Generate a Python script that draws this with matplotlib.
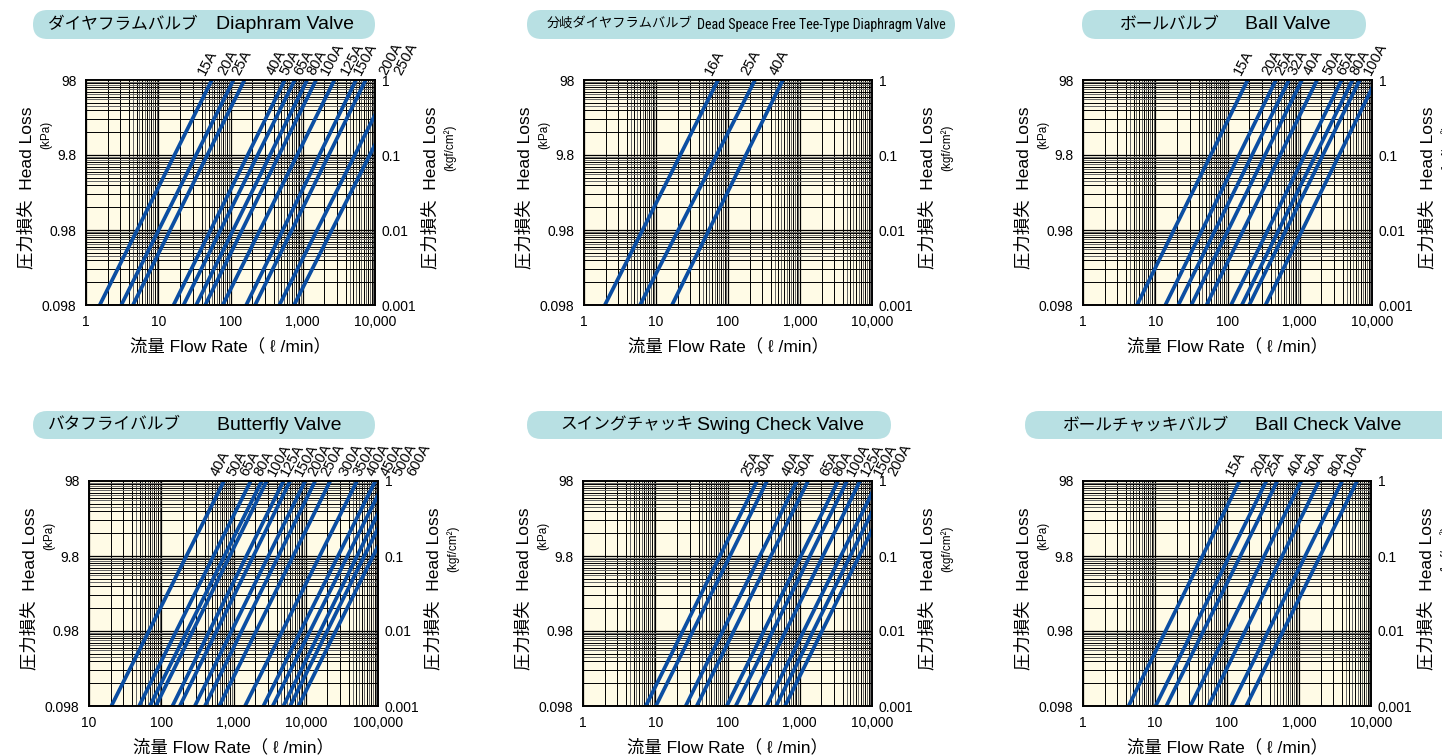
import numpy as np
import matplotlib.pyplot as plt
from matplotlib import font_manager
from matplotlib.patches import FancyBboxPatch
from matplotlib.transforms import IdentityTransform

plt.rcParams['font.family'] = ['Liberation Sans', 'Noto Sans CJK JP']

W, H = 1442, 756
LINE_BLUE = '#0b4ea2'
PAPER = '#fffbe6'
BADGE = '#b8e0e3'

# flow rate (l/min) where each line crosses 0.001 kgf/cm2 (lo) and 1 kgf/cm2 (hi)
diaphragm_sizes = ['15A', '20A', '25A', '40A', '50A', '65A', '80A', '100A', '125A', '150A', '200A', '250A']
diaphragm_q_lo = [1.55, 3.08, 4.47, 16.3, 22.4, 33.5, 44.7, 78.3, 165, 219, 475, 759]
diaphragm_q_hi = [55.2, 110, 156, 564, 774, 1148, 1528, 2742, 5458, 7430, 17500, 28300]

tee_sizes = ['16A', '25A', '40A']
tee_q_lo = [1.95, 6.0, 16.7]
tee_q_hi = [72.7, 237, 578]

ball_sizes = ['15A', '20A', '25A', '32A', '40A', '50A', '65A', '80A', '100A']
ball_q_lo = [5.6, 13.8, 20.9, 31.6, 51.3, 112, 158, 200, 336]
ball_q_hi = [190, 468, 708, 1072, 1738, 3800, 5370, 6760, 11380]

butterfly_sizes = ['40A', '50A', '65A', '80A', '100A', '125A', '150A', '200A', '250A',
                   '300A', '350A', '400A', '450A', '500A', '600A']
butterfly_q_lo = [20.4, 49.4, 69.5, 84.1, 143, 181, 292, 403, 635, 1445, 2594, 3490, 4910, 6080, 7930]
butterfly_q_hi = [738, 1730, 2460, 2880, 4910, 6080, 9820, 13500, 21800, 51200, 91800,
                  124700, 166300, 210400, 280500]

swing_sizes = ['25A', '30A', '40A', '50A', '65A', '80A', '100A', '125A', '150A', '200A']
swing_q_lo = [7.4, 10.2, 26.4, 37.5, 97.7, 130, 197, 348, 471, 625]
swing_q_hi = [256, 352, 916, 1300, 3388, 4510, 6820, 12080, 16300, 21700]

ballcheck_sizes = ['15A', '20A', '25A', '40A', '50A', '80A', '100A']
ballcheck_q_lo = [4.3, 10.2, 14.4, 31, 55, 115, 185]
ballcheck_q_hi = [149, 352, 500, 1074, 1905, 3970, 6400]

kgf_ticks = [0.001, 0.01, 0.1, 1]
kpa_labels = ['0.098', '0.98', '9.8', '98']
kgf_labels = ['0.001', '0.01', '0.1', '1']

grid_subs = [2, 3, 4, 4.5, 5, 5.5, 6, 6.5, 7, 7.5, 8, 8.5, 9, 9.5]

panels = [
    # jp, en, sizes, lo, hi, xmin, xmax, axes box (l, t, r, b), badge (x0, x1, jp_x, en_x, en_right, y0, y1)
    ('ダイヤフラムバルブ', 'Diaphram Valve', diaphragm_sizes, diaphragm_q_lo, diaphragm_q_hi,
     1, 1e4, (86, 80, 375, 305), (33, 375, 48, 216, 357, 10, 39)),
    ('分岐ダイヤフラムバルブ', 'Dead Speace Free Tee-Type Diaphragm Valve', tee_sizes, tee_q_lo, tee_q_hi,
     1, 1e4, (584, 80, 872, 305), (527, 955, 547, 697, 945, 10, 39)),
    ('ボールバルブ', 'Ball Valve', ball_sizes, ball_q_lo, ball_q_hi,
     1, 1e4, (1083, 80, 1372, 305), (1082, 1366, 1120, 1245, 1332, 10, 39)),
    ('バタフライバルブ', 'Butterfly Valve', butterfly_sizes, butterfly_q_lo, butterfly_q_hi,
     10, 1e5, (89, 481, 378, 706), (33, 375, 48, 217, 343, 411, 439)),
    ('スイングチャッキ', 'Swing Check Valve', swing_sizes, swing_q_lo, swing_q_hi,
     1, 1e4, (583, 481, 872, 706), (527, 891, 560, 697, 868, 411, 439)),
    ('ボールチャッキバルブ', 'Ball Check Valve', ballcheck_sizes, ballcheck_q_lo, ballcheck_q_hi,
     1, 1e4, (1083, 481, 1371, 706), (1025, 1470, 1063, 1255, 1403, 411, 439)),
]

installed = {f.name for f in font_manager.fontManager.ttflist}
narrow = next((n for n in ['Liberation Sans Narrow', 'DejaVu Sans Condensed', 'Roboto Condensed']
               if n in installed), None)


def spread(xs, gap):
    """Push crowded label positions apart, keeping each group centred."""
    order = np.argsort(xs)
    groups = []
    for i in order:
        groups.append([[i], [xs[i]]])
        while len(groups) > 1:
            g1, g2 = groups[-2], groups[-1]
            end1 = np.mean(g1[1]) + (len(g1[0]) - 1) * gap / 2
            start2 = np.mean(g2[1]) - (len(g2[0]) - 1) * gap / 2
            if start2 - end1 < gap:
                groups[-2:] = [[g1[0] + g2[0], g1[1] + g2[1]]]
            else:
                break
    out = np.empty(len(xs))
    for idx, des in groups:
        start = np.mean(des) - (len(idx) - 1) * gap / 2
        for k, i in enumerate(idx):
            out[i] = start + k * gap
    return out


fig = plt.figure(figsize=(W / 100, H / 100), dpi=100)
fit_texts = []

for jp, en, sizes, q_lo, q_hi, xmin, xmax, box, badge in panels:
    l, t, r, b = box
    ax = fig.add_axes([l / W, 1 - b / H, (r - l) / W, (b - t) / H])
    ax.set_facecolor(PAPER)
    ax.set_xscale('log')
    ax.set_yscale('log')
    ax.set_xlim(xmin, xmax)
    ax.set_ylim(0.001, 1)

    # hand-ruled log grid
    e0, e1 = int(round(np.log10(xmin))), int(round(np.log10(xmax)))
    for e in range(e0, e1):
        for s in grid_subs:
            c = 'black' if s == int(s) else '#666666'
            ax.axvline(s * 10.0 ** e, color=c, lw=0.7, zorder=1)
        ax.axvline(10.0 ** e, color='black', lw=0.9, zorder=1)
    for e in range(-3, 0):
        for s in grid_subs:
            c = 'black' if s == int(s) else '#666666'
            ax.axhline(s * 10.0 ** e, color=c, lw=0.7, zorder=1)
        ax.axhline(10.0 ** e, color='black', lw=0.9, zorder=1)

    for lo, hi in zip(q_lo, q_hi):
        ax.plot([lo, hi], [0.001, 1], color=LINE_BLUE, lw=2.7, solid_capstyle='butt', zorder=3)

    for sp in ax.spines.values():
        sp.set_linewidth(1.4)
        sp.set_zorder(5)

    xt = [10.0 ** e for e in range(e0, e1 + 1)]
    ax.set_xticks(xt)
    ax.set_xticklabels([f'{int(v):,}' for v in xt])
    ax.set_xticks([], minor=True)
    ax.set_yticks(kgf_ticks)
    ax.set_yticklabels(kpa_labels)
    ax.set_yticks([], minor=True)
    ax.tick_params(length=0, labelsize=10)
    ax.tick_params(axis='x', pad=7)
    ax.tick_params(axis='y', pad=7)

    ax2 = ax.twinx()
    ax2.set_yscale('log')
    ax2.set_ylim(0.001, 1)
    ax2.set_yticks(kgf_ticks)
    ax2.set_yticklabels(kgf_labels)
    ax2.set_yticks([], minor=True)
    ax2.tick_params(length=0, labelsize=10, pad=5)
    for sp in ax2.spines.values():
        sp.set_visible(False)

    # size labels above the frame
    ndec = np.log10(xmax) - np.log10(xmin)
    top_px = [l + (np.log10(h) - np.log10(xmin)) / ndec * (r - l) for h in q_hi]
    lab_px = spread(np.array(top_px), 13.5)
    for name, xp in zip(sizes, lab_px):
        fig.text((xp - 4) / W, 1 - (t - 3) / H, name, rotation=62, rotation_mode='anchor',
                 ha='left', va='bottom', fontsize=10.5)

    # axis titles
    fig.text((l + r) / 2 / W, 1 - (b + 41) / H, '流量 Flow Rate（ ℓ /min）',
             ha='center', va='center', fontsize=12.5)
    fig.text((l - 60) / W, 1 - (t + 108) / H, '圧力損失  Head Loss', rotation=90,
             ha='center', va='center', fontsize=12.5)
    fig.text((l - 40) / W, 1 - (t + 55) / H, '(kPa)', rotation=90,
             ha='center', va='center', fontsize=8.5)
    fig.text((r + 55) / W, 1 - (t + 108) / H, '圧力損失  Head Loss', rotation=90,
             ha='center', va='center', fontsize=12.5)
    fig.text((r + 75) / W, 1 - (t + 68) / H, '(kgf/cm²)', rotation=90,
             ha='center', va='center', fontsize=8.5)

    # rounded title badge
    x0, x1, jx, ex, ex_end, y0, y1 = badge
    hgt = y1 - y0
    fig.add_artist(FancyBboxPatch((x0, H - y1), x1 - x0, hgt,
                                  boxstyle=f'round,pad=0,rounding_size={hgt / 2}',
                                  transform=IdentityTransform(), facecolor=BADGE,
                                  edgecolor='none'))
    yc = 1 - (y0 + y1) / 2 / H
    if len(en) > 25:
        # long title: smaller Japanese, condensed English
        fig.text(jx / W, yc, jp, ha='left', va='center', fontsize=9.5)
        fam = [narrow, 'Liberation Sans'] if narrow else ['Liberation Sans']
        tx = fig.text(ex / W, yc, en, ha='left', va='center', fontsize=11, family=fam)
        fit_texts.append((tx, ex_end - ex))
    else:
        fig.text(jx / W, yc, jp, ha='left', va='center', fontsize=12)
        fig.text(ex / W, yc, en, ha='left', va='center', fontsize=14)

# shrink the long title so it fits inside its badge
fig.canvas.draw()
renderer = fig.canvas.get_renderer()
for tx, target in fit_texts:
    w = tx.get_window_extent(renderer).width
    if w > target:
        tx.set_fontsize(tx.get_fontsize() * target / w)

fig.savefig('out.png', dpi=100, facecolor='white')
